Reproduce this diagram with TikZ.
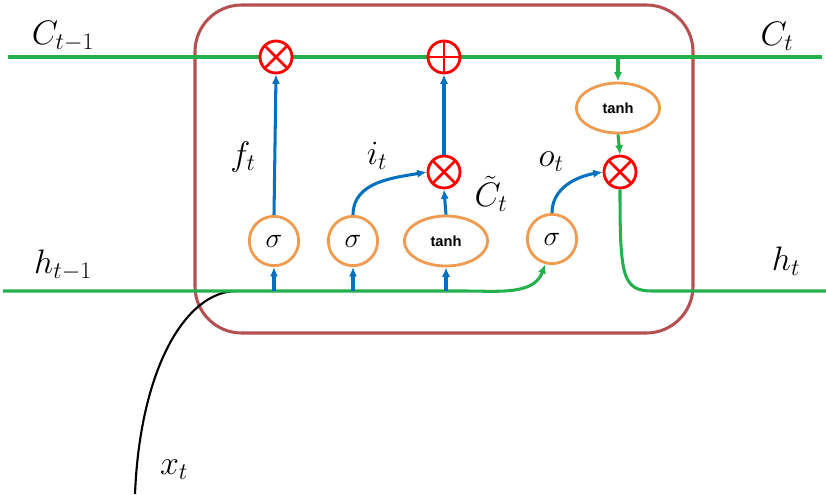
\RequirePackage{fix-cm}
\documentclass[tikz,border=0pt]{standalone}
\usepackage{fontspec}
\newfontfamily\arialbold[BoldFont=*]{Liberation Sans Bold}
\usetikzlibrary{arrows.meta,shapes.geometric}
\definecolor{lgreen}{RGB}{34,177,76}
\definecolor{lblue}{RGB}{0,112,192}
\definecolor{lorange}{RGB}{240,155,80}
\definecolor{lred}{RGB}{255,0,0}
\definecolor{lbox}{RGB}{180,80,80}
\tikzset{
  mult/.style={circle, draw=lred, fill=white, line width=2.4pt, minimum size=0.96cm, inner sep=0pt,
    path picture={\draw[lred, line width=2.4pt] (path picture bounding box.north west) -- (path picture bounding box.south east) (path picture bounding box.north east) -- (path picture bounding box.south west);}},
  addop/.style={circle, draw=lred, fill=white, line width=2.4pt, minimum size=0.96cm, inner sep=0pt,
    path picture={\draw[lred, line width=2.4pt] (path picture bounding box.north) -- (path picture bounding box.south) (path picture bounding box.west) -- (path picture bounding box.east);}},
  sig/.style={circle, draw=lorange, fill=white, line width=2.4pt, minimum size=1.48cm, inner sep=0pt, font=\fontsize{24pt}{26pt}\selectfont},
  thbox/.style={ellipse, draw=lorange, fill=white, line width=2.4pt, minimum width=2.5cm, minimum height=1.5cm, inner sep=0pt, font=\arialbold\fontsize{12.5pt}{14pt}\selectfont},
  gline/.style={draw=lgreen, line width=2.6pt},
  barrow/.style={draw=lblue, line width=2.6pt, -{Latex[length=8pt,width=7pt]}},
  garrow/.style={draw=lgreen, line width=2.6pt, -{Latex[length=8pt,width=7pt]}},
  lab/.style={font=\fontsize{29pt}{32pt}\selectfont, inner sep=0pt}
}
\begin{document}
\begin{tikzpicture}[x=0.03cm,y=-0.03cm]
\useasboundingbox (0,0) rectangle (826,494);
% cell box
\draw[lbox, line width=2.6pt, rounded corners=1.4cm] (195,5) rectangle (693,333);
% input curve x_t
\coordinate (xs) at (135,494);
\coordinate (xe) at (237,291);
\draw[black, line width=1.8pt] (xs) .. controls (140,370) and (185,291) .. (xe);
% cell state line
\coordinate (cl) at (8,57);
\coordinate (cr) at (822,57);
\draw[gline] (cl) -- (cr);
% operators
\node[mult] (m1) at (276,57) {};
\node[addop] (ad) at (444,57) {};
\node[mult] (m2) at (444,172) {};
\node[mult] (m3) at (620,172) {};
% gates
\node[sig] (s1) at (274,241) {$\sigma$};
\node[sig] (s2) at (353,241) {$\sigma$};
\node[thbox] (t1) at (446,241) {tanh};
\node[sig] (s3) at (552,239) {$\sigma$};
\node[thbox] (t2) at (618,108) {tanh};
% hidden line
\coordinate (hl) at (3,291);
\coordinate (hb) at (465,291);
\draw[garrow] (hl) -- (hb) to[out=0,in=250] (s3.-105);
\coordinate (ho) at (652,291);
\coordinate (hr) at (826,291);
\draw[gline] (m3.south) .. controls (620,275) and (622,291) .. (ho) -- (hr);
% blue arrows from h line
\coordinate (h1) at (274,291);
\coordinate (h2) at (353,291);
\coordinate (h3) at (446,291);
\draw[barrow] (h1) -- (s1.south);
\draw[barrow] (h2) -- (s2.south);
\draw[barrow] (h3) -- (t1.south);
\draw[barrow] (s1.north) -- (m1.south);
\draw[barrow] (s2.north) to[out=90,in=190] (m2.west);
\draw[barrow] (t1.north) -- (m2.south);
\draw[barrow] (m2.north) -- (ad.south);
\draw[barrow] (s3.north) to[out=90,in=190] (m3.west);
% green arrows
\coordinate (c3) at (618,57);
\draw[garrow] (c3) -- (t2.north);
\draw[garrow] (t2.south) -- (m3.north);
% labels
\node[lab] (lc0) at (63,36) {$C_{t-1}$};
\node[lab] (lc1) at (777,36) {$C_t$};
\node[lab] (lh0) at (63,265) {$h_{t-1}$};
\node[lab] (lh1) at (786,261) {$h_t$};
\node[lab] (lf) at (243,157) {$f_t$};
\node[lab] (li) at (377,156) {$i_t$};
\node[lab] (lct) at (491,194) {$\tilde{C}_t$};
\node[lab] (lo) at (551,162) {$o_t$};
\node[lab] (lx) at (174,470) {$x_t$};
\end{tikzpicture}
\end{document}
